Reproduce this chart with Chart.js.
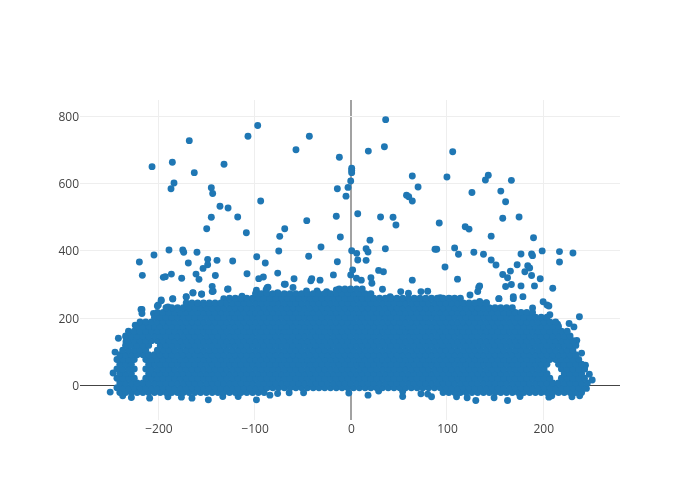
<!DOCTYPE html>
<html><head><meta charset="utf-8">
<style>html,body{margin:0;padding:0;background:#fff}canvas{display:block}</style>
<script src="https://cdn.jsdelivr.net/npm/chart.js@4/dist/chart.umd.min.js"></script>
</head><body><canvas id="c" width="700" height="500"></canvas>
<script>
const xTicks=[-200,-100,0,100,200];
const yTicks=[0,200,400,600,800];
const outX=[-167.8,-106.8,-96.7,-43,-56.9,-206.5,-185.4,-162.6,-131.7,-11.8,1,1,1,0,-2.8,-13.9,-4.9,-183.7,-186.8,-144.9,-143.5,-93.6,-135.9,-127.5,-144.9,-117.5,-149.7,-108.5,-45.7,-15,7.3,-68.6,-73.8,-10.8,-30.9,-74.8,1,6.2,7.3,-188.9,-174.6,-173.6,-159.8,-204.5,-219.7,-216.6,-194.8,-192.7,-186.4,-175.7,-168.8,-148.7,-148.7,-153.5,-139,-122.7,-160.8,-157.7,-140.7,-97.7,-88.8,-43.7,-13.9,-107.8,-95.6,-90.8,-75.9,-58.9,-40.5,-41.5,-31.9,-18,0,2,6,-144,-143,-127.5,-155,-164,-171,-185,-197,-69,-87,-218,-113,36.3,35,18.3,106,64,100,70,143,140,167,156,126,161,58,60.3,64,158,175,31,44,47,92,119,123,146,190,20,16,18,36,87.6,89.4,108,112,128,138,177,188,189,199,217,231,217,16,98,146,151,173,184,186,181,166,158,163,188,197,29,34,21,11,64,111,22,167,161,177,191,210,134,133,132,169,179,154,200,204,206];
const outY=[728,741,773,741,701,650.7,663.6,632.8,657.7,678.6,645.8,639,632.8,608,589,585,563,602,585,588,571,548.5,532.7,527.7,500,501,466,454,490,503,510.8,466,443.4,441.4,411.6,399.7,400.7,392.8,373,402.7,402.7,396,396,387.8,367,327.3,321.4,323.4,331,318.7,364,375,359,348,372,370,331,315.4,327,382.8,364,384,368,332,317.5,322.6,334,317,317,311,313,328.7,328.7,343.5,319,294.6,280,287,271.7,275,263,257,251.5,301,289.6,226,265,790.6,710,697,695,623,620,590,625,611,610,578,574,546.5,566,561,548.5,497,501,501,500,477,483,472,465,444,439,432,406.5,397,406.5,405,405,409,390,396,390,391,391,386,400,398,394,367,372,352,373,358,359,356,349,338,340,330,320,327,317,342,338,320,313,313,316,304,300,294,296,296,289,296,291,279,264,264,258,249,239,236];
const edgeX=[-250,-237,-228,-209,-190,-176,-165,-148,-133,-117,-98,-84,-76,-64,-49,-2,18,29,54,54,73,80,84,110,121,130,149,163,176,206,209,230,238,245,251,-241.5,-233.6,-233.6,-224,-217,-217,-205,-200,-197,-185,-171,-164,-155,-144,-128,-98,-86,-68,-60,237.7,227,232,235,240,244,33,52,73,80,124,154,169,189,207,-247,-245,-201,-190,-132,-88,-76,-46,-35,-25,-15,41,60,93,103,111,134,141,215,234,243,248];
const edgeY=[-20,-31,-36,-38,-34,-35,-38,-43,-33,-33,-43,-29,-24,-22,-22,-23,-29,-17,-18,-33,-25,-26,-34,-34,-37,-45,-37,-45,-33,-35,-31,-34,-31,-9,16,140,143,130,179,226,214,214,239,254,258,264,276,271,279,286,283,292,301,291,204,184,174,134,96,60,286,279,279,280,269,258,258,230,210,37,99,236,233,258,284,276,281,281,279,284,264,274,261,258,256,250,246,182,126,49,33];
const bandY=[-21,-7,7,21,35,49,63,77,91,105,119,133,147,161,175,189,203,217,231,245,259,273,287];
const bandX=[
[-240,-234,-228,-222,-216,-210,-204,-198,-192,-186,-180,-174,-168,-162,-156,-150,-144,-138,-132,-126,-120,-114,-108,-102,-96,-90,96,102,108,114,120,126,132,138,144,150,156,162,168,174,180,186,192,198,204,210,216,222,228,234,240],
[-243,-237,-231,-225,-219,-213,-207,-201,-195,-189,-183,-177,-171,-165,-159,-153,-147,-141,-135,-129,-123,-117,-111,-105,-99,-93,-87,-81,-75,-69,-63,-57,-51,-45,-39,-33,-27,-21,-15,-9,-3,3,9,15,21,27,33,39,45,51,57,63,69,75,81,87,93,99,105,111,117,123,129,135,141,147,153,159,165,171,177,183,189,195,201,207,213,219,225,231,237,243],
[-240,-234,-228,-222,-216,-210,-204,-198,-192,-186,-180,-174,-168,-162,-156,-150,-144,-138,-132,-126,-120,-114,-108,-102,-96,-90,-84,-78,-72,-66,-60,-54,-48,-42,-36,-30,-24,-18,-12,-6,0,6,12,18,24,30,36,42,48,54,60,66,72,78,84,90,96,102,108,114,120,126,132,138,144,150,156,162,168,174,180,186,192,198,204,210,216,222,228,234,240,246],
[-243,-237,-231,-225,-213,-207,-201,-195,-189,-183,-177,-171,-165,-159,-153,-147,-141,-135,-129,-123,-117,-111,-105,-99,-93,-87,-81,-75,-69,-63,-57,-51,-45,-39,-33,-27,-21,-15,-9,-3,3,9,15,21,27,33,39,45,51,57,63,69,75,81,87,93,99,105,111,117,123,129,135,141,147,153,159,165,171,177,183,189,195,201,207,219,225,231,237,243],
[-240,-234,-228,-210,-204,-198,-192,-186,-180,-174,-168,-162,-156,-150,-144,-138,-132,-126,-120,-114,-108,-102,-96,-90,-84,-78,-72,-66,-60,-54,-48,-42,-36,-30,-24,-18,-12,-6,0,6,12,18,24,30,36,42,48,54,60,66,72,78,84,90,96,102,108,114,120,126,132,138,144,150,156,162,168,174,180,186,192,198,204,222,228,234,240],
[-243,-237,-231,-225,-213,-207,-201,-195,-189,-183,-177,-171,-165,-159,-153,-147,-141,-135,-129,-123,-117,-111,-105,-99,-93,-87,-81,-75,-69,-63,-57,-51,-45,-39,-33,-27,-21,-15,-9,-3,3,9,15,21,27,33,39,45,51,57,63,69,75,81,87,93,99,105,111,117,123,129,135,141,147,153,159,165,171,177,183,189,195,201,219,225,231,237,243],
[-240,-234,-228,-210,-204,-198,-192,-186,-180,-174,-168,-162,-156,-150,-144,-138,-132,-126,-120,-114,-108,-102,-96,-90,-84,-78,-72,-66,-60,-54,-48,-42,-36,-30,-24,-18,-12,-6,0,6,12,18,24,30,36,42,48,54,60,66,72,78,84,90,96,102,108,114,120,126,132,138,144,150,156,162,168,174,180,186,192,198,204,216,222,228,234,240],
[-243,-237,-231,-225,-213,-207,-201,-195,-189,-183,-177,-171,-165,-159,-153,-147,-141,-135,-129,-123,-117,-111,-105,-99,-93,-87,-81,-75,-69,-63,-57,-51,-45,-39,-33,-27,-21,-15,-9,-3,3,9,15,21,27,33,39,45,51,57,63,69,75,81,87,93,99,105,111,117,123,129,135,141,147,153,159,165,171,177,183,189,195,201,207,213,219,225,231,237],
[-240,-234,-228,-222,-216,-210,-204,-198,-192,-186,-180,-174,-168,-162,-156,-150,-144,-138,-132,-126,-120,-114,-108,-102,-96,-90,-84,-78,-72,-66,-60,-54,-48,-42,-36,-30,-24,-18,-12,-6,0,6,12,18,24,30,36,42,48,54,60,66,72,78,84,90,96,102,108,114,120,126,132,138,144,150,156,162,168,174,180,186,192,198,204,210,216,222,228,234],
[-237,-231,-225,-219,-213,-201,-195,-189,-183,-177,-171,-165,-159,-153,-147,-141,-135,-129,-123,-117,-111,-105,-99,-93,-87,-81,-75,-69,-63,-57,-51,-45,-39,-33,-27,-21,-15,-9,-3,3,9,15,21,27,33,39,45,51,57,63,69,75,81,87,93,99,105,111,117,123,129,135,141,147,153,159,165,171,177,183,189,195,201,207,213,219,225,231],
[-234,-228,-222,-216,-210,-198,-192,-186,-180,-174,-168,-162,-156,-150,-144,-138,-132,-126,-120,-114,-108,-102,-96,-90,-84,-78,-72,-66,-60,-54,-48,-42,-36,-30,-24,-18,-12,-6,0,6,12,18,24,30,36,42,48,54,60,66,72,78,84,90,96,102,108,114,120,126,132,138,144,150,156,162,168,174,180,186,192,198,204,210,216,222,228,234],
[-231,-225,-219,-213,-207,-201,-195,-189,-183,-177,-171,-165,-159,-153,-147,-141,-135,-129,-123,-117,-111,-105,-99,-93,-87,-81,-75,-69,-63,-57,-51,-45,-39,-33,-27,-21,-15,-9,-3,3,9,15,21,27,33,39,45,51,57,63,69,75,81,87,93,99,105,111,117,123,129,135,141,147,153,159,165,171,177,183,189,195,201,207,213,219,225,231],
[-234,-228,-222,-216,-210,-204,-198,-192,-186,-180,-174,-168,-162,-156,-150,-144,-138,-132,-126,-120,-114,-108,-102,-96,-90,-84,-78,-72,-66,-60,-54,-48,-42,-36,-30,-24,-18,-12,-6,0,6,12,18,24,30,36,42,48,54,60,66,72,78,84,90,96,102,108,114,120,126,132,138,144,150,156,162,168,174,180,186,192,198,204,210,216,222,228],
[-231,-225,-219,-213,-207,-201,-195,-189,-183,-177,-171,-165,-159,-153,-147,-141,-135,-129,-123,-117,-111,-105,-99,-93,-87,-81,-75,-69,-63,-57,-51,-45,-39,-33,-27,-21,-15,-9,-3,3,9,15,21,27,33,39,45,51,57,63,69,75,81,87,93,99,105,111,117,123,129,135,141,147,153,159,165,171,177,183,189,195,201,207,213,219,225],
[-222,-216,-210,-204,-198,-192,-186,-180,-174,-168,-162,-156,-150,-144,-138,-132,-126,-120,-114,-108,-102,-96,-90,-84,-78,-72,-66,-60,-54,-48,-42,-36,-30,-24,-18,-12,-6,0,6,12,18,24,30,36,42,48,54,60,66,72,78,84,90,96,102,108,114,120,126,132,138,144,150,156,162,168,174,180,186,192,198,204,210,216],
[-219,-213,-207,-201,-195,-189,-183,-177,-171,-165,-159,-153,-147,-141,-135,-129,-123,-117,-111,-105,-99,-93,-87,-81,-75,-69,-63,-57,-51,-45,-39,-33,-27,-21,-15,-9,-3,3,9,15,21,27,33,39,45,51,57,63,69,75,81,87,93,99,105,111,117,123,129,135,141,147,153,159,165,171,177,183,189,195,201,207,213],
[-204,-198,-192,-186,-180,-174,-168,-162,-156,-150,-144,-138,-132,-126,-120,-114,-108,-102,-96,-90,-84,-78,-72,-66,-60,-54,-48,-42,-36,-30,-24,-18,-12,-6,0,6,12,18,24,30,36,42,48,54,60,66,72,78,84,90,96,102,108,114,120,126,132,138,144,150,156,162,168,174,180,186,192,198,204],
[-201,-195,-189,-183,-177,-171,-165,-159,-153,-147,-141,-135,-129,-123,-117,-111,-105,-99,-93,-87,-81,-75,-69,-63,-57,-51,-45,-39,-33,-27,-21,-15,-9,-3,3,9,15,21,27,33,39,45,51,57,63,69,75,81,87,93,99,105,111,117,123,129,135,141,147,153,159,165,171,177,183,189],
[-192,-186,-180,-174,-168,-162,-156,-150,-144,-138,-132,-126,-120,-114,-108,-102,-96,-90,-84,-78,-72,-66,-60,-54,-48,-42,-36,-30,-24,-18,-12,-6,0,6,12,18,24,30,36,42,48,54,60,66,72,78,84,90,96,102,108,114,120,126,132,138,144,150,156,162,168],
[-171,-165,-159,-153,-147,-141,-135,-129,-123,-117,-111,-105,-99,-93,-87,-81,-75,-69,-63,-57,-51,-45,-39,-33,-27,-21,-15,-9,-3,3,9,15,21,27,33,39,45,51,57,63,69,75,81,87,93,99,105,111,117,123,129,135,141],
[-126,-120,-114,-108,-102,-96,-90,-84,-78,-72,-66,-60,-54,-48,-42,-36,-30,-24,-18,-12,-6,0,6,12,18,24,30,36,42,48,54,60,66,72,78,84,90,96,102,108,114],
[-99,-93,-87,-81,-75,-69,-63,-57,-51,-45,-39,-33,-27,-21,-15,-9,-3,3,9,15,21],
[-12,-6,0,6,12]
];
const pts=[];
outX.forEach((x,i)=>pts.push({x,y:outY[i]}));
edgeX.forEach((x,i)=>pts.push({x,y:edgeY[i]}));
bandX.forEach((row,i)=>row.forEach(x=>pts.push({x,y:bandY[i]})));
const tickFont={family:'"Open Sans"',size:12};
new Chart(document.getElementById('c'),{
 type:'scatter',
 data:{datasets:[{data:pts,backgroundColor:'#1f77b4',borderWidth:0,pointRadius:3.45,pointHoverRadius:3.45}]},
 options:{responsive:false,animation:false,
  layout:{padding:{top:100,right:80,left:0,bottom:0}},
  plugins:{legend:{display:false},tooltip:{enabled:false}},
  scales:{
   x:{type:'linear',min:-281.4,max:279.9,
    afterBuildTicks:a=>{a.ticks=xTicks.map(value=>({value}));},
    afterFit:a=>{a.height=80;},
    border:{display:false},
    grid:{drawTicks:false,color:c=>c.tick&&c.tick.value===0?'#a2a2a2':'#eee',lineWidth:c=>c.tick&&c.tick.value===0?2:1},
    ticks:{color:'#444',font:tickFont,padding:2,labelOffset:0.6,maxRotation:0,autoSkip:false,callback:v=>String(v).replace('-','\u2212')}},
   y:{type:'linear',min:-103,max:849,
    afterBuildTicks:a=>{a.ticks=yTicks.map(value=>({value}));},
    afterFit:a=>{a.width=80;},
    border:{display:false},
    grid:{drawTicks:false,color:c=>c.tick&&c.tick.value===0?'#444':'#eee',lineWidth:1},
    ticks:{color:'#444',font:tickFont,padding:1,labelOffset:1,autoSkip:false}}
  }
 }
});
</script></body></html>
